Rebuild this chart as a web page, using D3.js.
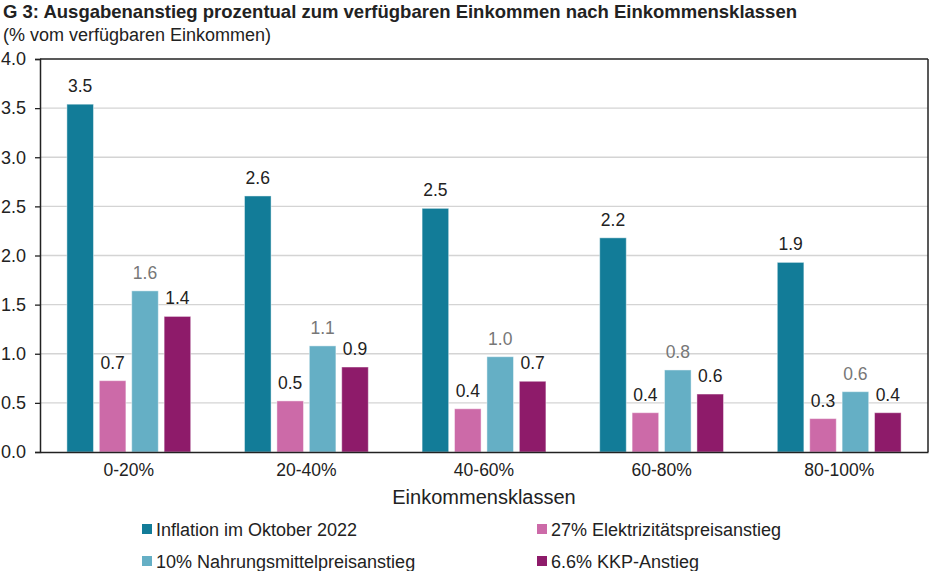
<!DOCTYPE html>
<html><head><meta charset="utf-8">
<script src="https://cdn.jsdelivr.net/npm/d3@7"></script>
<style>body{margin:0;background:#fff;}svg{display:block;font-family:Arial,"Liberation Sans",sans-serif;}</style>
</head><body>
<svg id="chart" width="930" height="571"></svg>
<script>
const categories = ["0-20%", "20-40%", "40-60%", "60-80%", "80-100%"];
const seriesNames = ["Inflation im Oktober 2022", "27% Elektrizitätspreisanstieg", "10% Nahrungsmittelpreisanstieg", "6.6% KKP-Anstieg"];
const inflation = [3.54, 2.606, 2.48, 2.18, 1.93];
const elektrizitaet = [0.726, 0.52, 0.44, 0.40, 0.34];
const nahrungsmittel = [1.64, 1.08, 0.97, 0.835, 0.614];
const kkp = [1.38, 0.865, 0.72, 0.59, 0.40];
const yTicks = [0, 0.5, 1.0, 1.5, 2.0, 2.5, 3.0, 3.5, 4.0];
const colors = ["#127C98", "#CC6AA8", "#65AFC5", "#8E1B6A"];
const labelColors = ["#222", "#222", "#777", "#222"];

const seriesValues = [inflation, elektrizitaet, nahrungsmittel, kkp];
const svg = d3.select("#chart");
const L = 40, R = 928, T = 59, B = 452;
const FF = "Arial, 'Liberation Sans', sans-serif";

svg.append("text").attr("x", 3).attr("y", 18).attr("font-size", 18.5).attr("font-weight", "bold").attr("fill", "#222")
  .text("G 3: Ausgabenanstieg prozentual zum verfügbaren Einkommen nach Einkommensklassen");
svg.append("text").attr("x", 3).attr("y", 41).attr("font-size", 18).attr("fill", "#222")
  .text("(% vom verfügbaren Einkommen)");

const y = d3.scaleLinear().domain([0, 4]).range([B, T]);
const x0 = d3.scaleBand().domain(categories).range([L, R]).padding(0);
const groupW = x0.bandwidth() * 0.73;
const x1 = d3.scaleBand().domain(d3.range(4)).range([0, groupW]).paddingInner(0.18).paddingOuter(0.09);
const off = (x0.bandwidth() - groupW) / 2;

// gridlines
svg.append("g").selectAll("line").data(yTicks.filter(t => t > 0 && t < 4)).join("line")
  .attr("x1", L).attr("x2", R).attr("y1", d => y(d)).attr("y2", d => y(d))
  .attr("stroke", "#d4d4d4").attr("stroke-width", 1.3);

// frame top/right
svg.append("line").attr("x1", L).attr("x2", R).attr("y1", T).attr("y2", T).attr("stroke", "#222").attr("stroke-width", 1.5);
svg.append("line").attr("x1", R).attr("x2", R).attr("y1", T).attr("y2", B).attr("stroke", "#222").attr("stroke-width", 1.5);

// y axis
const yAxis = d3.axisLeft(y).tickValues(yTicks).tickFormat(d3.format(".1f")).tickSize(5).tickPadding(9);
const ya = svg.append("g").attr("transform", `translate(${L},0)`).call(yAxis);
ya.select(".domain").attr("stroke", "#222").attr("stroke-width", 1.5);
ya.selectAll(".tick line").attr("stroke", "#222").attr("stroke-width", 1.3);
ya.selectAll(".tick text").attr("font-size", 18).attr("fill", "#222").attr("font-family", FF);

// bars
const groups = svg.append("g").selectAll("g").data(categories).join("g")
  .attr("transform", d => `translate(${x0(d) + off},0)`);
groups.each(function(cat, ci) {
  const g = d3.select(this);
  seriesValues.forEach((vals, si) => {
    const v = vals[ci];
    g.append("rect").attr("x", x1(si)).attr("width", x1.bandwidth())
      .attr("y", y(v)).attr("height", B - y(v))
      .attr("fill", colors[si]).attr("stroke", "rgba(255,255,255,0.45)").attr("stroke-width", 1);
    g.append("text").attr("x", x1(si) + x1.bandwidth() / 2).attr("y", y(v) - 12)
      .attr("text-anchor", "middle").attr("font-size", 17.5).attr("fill", labelColors[si])
      .text(d3.format(".1f")(v));
  });
});

// x axis
const xAxis = d3.axisBottom(x0).tickSize(0).tickPadding(12);
const xa = svg.append("g").attr("transform", `translate(0,${B})`).call(xAxis);
xa.select(".domain").attr("stroke", "#222").attr("stroke-width", 1.5);
xa.selectAll(".tick text").attr("font-size", 17.5).attr("fill", "#222").attr("font-family", FF);

svg.append("text").attr("x", (L + R) / 2).attr("y", 504).attr("text-anchor", "middle")
  .attr("font-size", 20).attr("fill", "#222").text("Einkommensklassen");

// legend
const legendPos = [[142, 524], [537, 524], [142, 556], [537, 556]];
const lg = svg.append("g").selectAll("g").data(seriesNames).join("g")
  .attr("transform", (d, i) => `translate(${legendPos[i][0]},${legendPos[i][1]})`);
lg.append("rect").attr("width", 10).attr("height", 10).attr("fill", (d, i) => colors[i]);
lg.append("text").attr("x", 14).attr("y", 11.5).attr("font-size", 18).attr("fill", "#222").text(d => d);
</script>
</body></html>
